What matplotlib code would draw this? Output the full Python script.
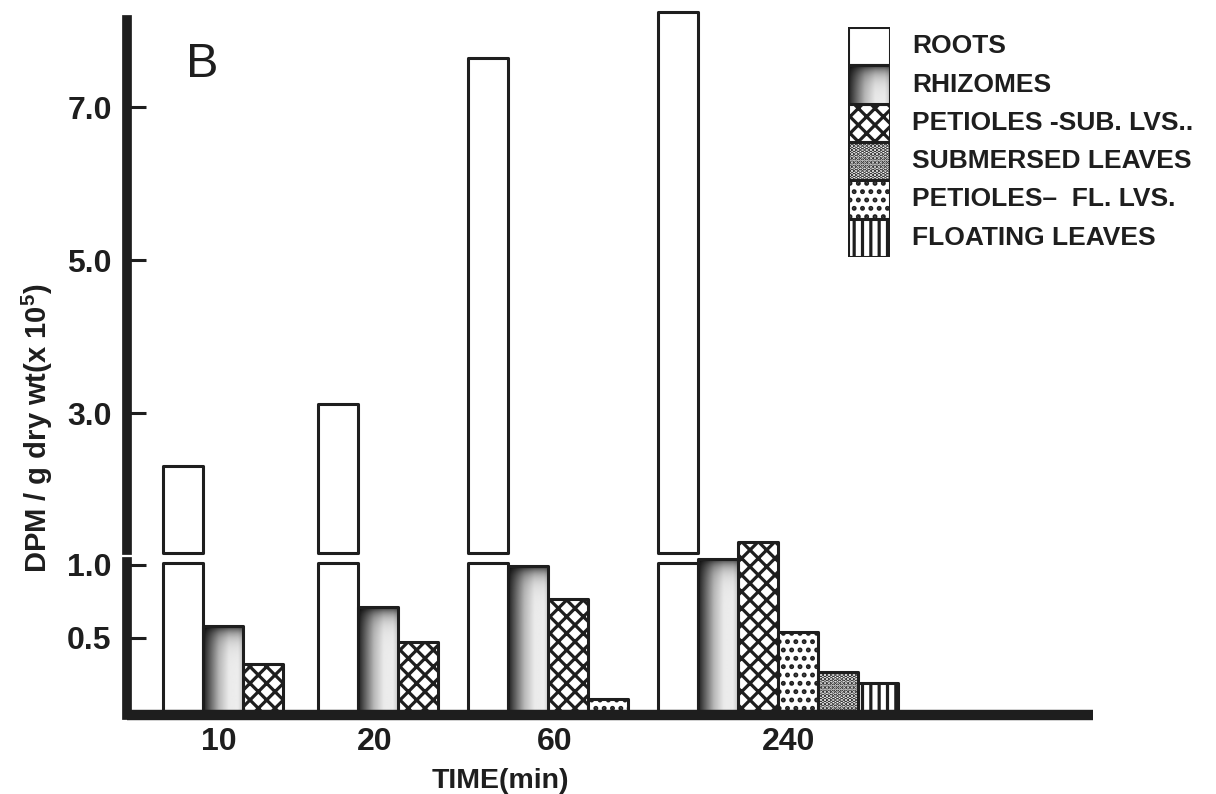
import numpy as np
import matplotlib
matplotlib.use("Agg")
import matplotlib.pyplot as plt

plt.rcParams['font.family'] = ['Liberation Sans', 'DejaVu Sans']
plt.rcParams['font.weight'] = 'bold'
plt.rcParams['mathtext.default'] = 'regular'
plt.rcParams['hatch.linewidth'] = 2.3
plt.rcParams['hatch.color'] = '#1e1e1e'

# data (DPM / g dry wt, x 10^5)
times = ['10', '20', '60', '240']
roots = [2.31, 3.12, 7.64, 8.24]
rhizomes = [0.58, 0.71, 0.99, 1.04]
petioles_sub = [0.32, 0.47, 0.77, 1.16]
petioles_fl = [None, None, 0.08, 0.54]
submersed = [None, None, None, 0.27]
floating = [None, None, None, 0.19]

legend_labels = ['ROOTS', 'RHIZOMES', 'PETIOLES -SUB. LVS..', 'SUBMERSED LEAVES',
                 'PETIOLES\u2013  FL. LVS.', 'FLOATING LEAVES']

# layout
W, H = 1216, 794
group_left = [0.9, 4.78, 8.53, 13.28]
label_off = [1.4, 1.4, 2.17, 3.25]
brk_low, brk_high = 1.02, 1.21
ink = '#1e1e1e'

fig = plt.figure(figsize=(W / 100, H / 100), dpi=100)
ax_top = fig.add_axes([127 / W, 1 - 550 / H, (1093 - 127) / W, 530 / H])
ax_low = fig.add_axes([127 / W, 1 - 715.4 / H, (1093 - 127) / W, 153.4 / H], sharex=ax_top)

shade_x = np.interp(np.linspace(0, 1, 80), [0, 0.12, 0.4, 0.65, 0.88, 1],
                    [0.12, 0.3, 0.72, 0.92, 0.93, 0.8])


def shade(ax, bars, unit_px):
    # dark-edged grey shading like the rhizome stipple
    for p in bars.patches:
        x0, y0, w, h = p.get_x(), p.get_y(), p.get_width(), p.get_height()
        band = 8 / (h * unit_px)
        gy = np.linspace(0, 1, 150)[:, None]
        img = shade_x[None, :] * (1 - 0.8 * np.exp(-(1 - gy) / band))
        im = ax.imshow(img, cmap='gray', vmin=0, vmax=1, extent=[x0, x0 + w, y0, y0 + h],
                       origin='lower', aspect='auto', interpolation='bilinear', zorder=1.5)
        im.set_clip_path(p)
        im.set_clip_box(None)


def draw(ax, vals, slot, bottom=0, **style):
    xs = [group_left[i] + slot + 0.5 for i, v in enumerate(vals) if v is not None]
    hs = [v - bottom for v in vals if v is not None]
    return ax.bar(xs, hs, width=1, bottom=bottom, clip_on=False, **style)


edge = dict(edgecolor=ink, linewidth=2.2, joinstyle='round')
styles = [
    dict(facecolor='white', **edge),
    dict(facecolor='none', zorder=2, **edge),
    dict(facecolor='white', hatch='xx', **edge),
    dict(facecolor='white', hatch='....', **edge),
    dict(facecolor='white', hatch='..', **edge),
    dict(facecolor='white', hatch='||', **edge),
]

# upper panel: only the roots go past the break
draw(ax_top, roots, 0, bottom=1.17, **styles[0])

# lower panel
draw(ax_low, list(np.minimum(roots, 1.01)), 0, **styles[0])
rh = draw(ax_low, rhizomes, 1, **styles[1])
shade(ax_low, rh, 146)
draw(ax_low, petioles_sub, 2, **styles[2])
draw(ax_low, petioles_fl, 3, **styles[4])
draw(ax_low, submersed, 4, **styles[3])
draw(ax_low, floating, 5, **styles[5])

ax_top.set_ylim(brk_high, 8.14)
ax_low.set_ylim(-0.03, brk_low)
ax_top.set_xlim(0, (1093 - 127) / 40)

for ax in (ax_top, ax_low):
    for s in ('top', 'right', 'bottom'):
        ax.spines[s].set_visible(False)
    ax.spines['left'].set_linewidth(7)
    ax.spines['left'].set_color(ink)
    ax.tick_params(axis='y', direction='in', length=14, width=2.2, pad=11,
                   labelsize=23, colors=ink)
    ax.patch.set_alpha(0)

ax_low.spines['bottom'].set_visible(True)
ax_low.spines['bottom'].set_linewidth(7.5)
ax_low.spines['bottom'].set_color(ink)
ax_low.spines['bottom'].set_capstyle('butt')

ax_top.set_yticks([3, 5, 7], ['3.0', '5.0', '7.0'])
ax_low.set_yticks([0.5, 1.0], ['0.5', '1.0'])
ax_top.tick_params(axis='x', which='both', length=0, labelbottom=False)
ax_low.set_xticks([g + o for g, o in zip(group_left, label_off)], times)
ax_low.tick_params(axis='x', length=0, pad=8, labelsize=23, colors=ink)

fig.text(37 / W, 1 - 428 / H, 'DPM / g dry wt(x 10$^5$)', rotation=90,
         ha='center', va='center', fontsize=21, color=ink)
fig.text(500 / W, 1 - 781 / H, 'TIME(min)', ha='center', va='center', fontsize=20.5, color=ink)
fig.text(186 / W, 1 - 77 / H, 'B', ha='left', va='baseline', fontsize=35,
         fontweight='normal', color=ink)

# legend, drawn as a stack of swatches
lax = fig.add_axes([848 / W, 1 - 257 / H, 42 / W, 230 / H])
legend_styles = [styles[0], styles[1], styles[2], styles[3], styles[4], styles[5]]
for i, (lab, st) in enumerate(zip(legend_labels, legend_styles)):
    y = 5 - i
    b = lax.bar(0.5, 1, bottom=y, width=1, **st)
    if i == 1:
        shade(lax, b, 38.3)
    lax.text(1 + 22 / 42, y + 0.5, lab, ha='left', va='center', fontsize=19,
             color=ink, clip_on=False)
lax.set_xlim(0, 1)
lax.set_ylim(0, 6)
lax.axis('off')

fig.savefig('out.png', dpi=100)
